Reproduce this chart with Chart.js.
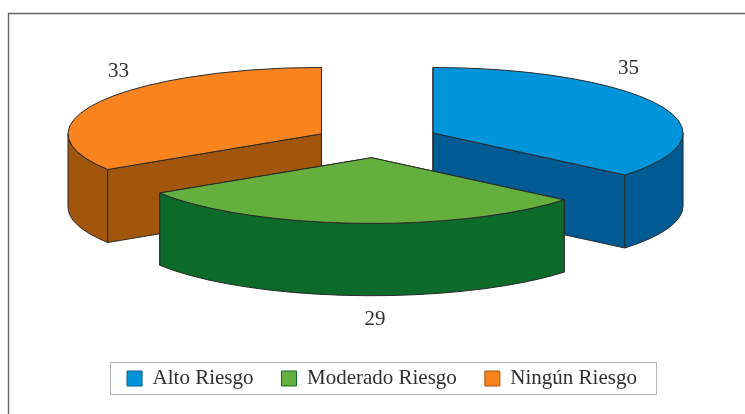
<!DOCTYPE html>
<html>
<head>
<meta charset="utf-8">
<style>
html,body{margin:0;padding:0;background:#fff;}
#wrap{position:relative;width:745px;height:414px;}
</style>
<script src="https://cdn.jsdelivr.net/npm/chart.js@4/dist/chart.umd.min.js"></script>
</head>
<body>
<div id="wrap"><canvas id="c" width="745" height="414"></canvas></div>
<script>
const categories = ['Alto Riesgo', 'Moderado Riesgo', 'Ningún Riesgo'];
const values = [35, 29, 33];
const topColors = ['#0095DB', '#65AF3F', '#F8831F'];
const wallColors = ['#005A94', '#0D6B29', '#A2560C'];
const FONT = '"Liberation Serif", serif';
const TEXT = '#2f2f2f';
const OUTLINE = '#2a2a2a';

// projection of the flat pie into its tilted view
const view = {cx: 376.6, cy: 141.4, squash: 0.262, depth: 73, explode: 62.3};
const paintOrder = [2, 0, 1];
const sliceShift = [[0, -1.5], [-1, 0], [-0.5, 0.3]];
const sliceScale = [1, 1.004, 1.014];
const depthScale = [1, 0.99, 1];
const labelNudge = [[-31, -36.5], [19.6, 22.7], [19.3, -30]];

function sliceOrigin(arc, i) {
  const mid = (arc.startAngle + arc.endAngle) / 2;
  return {
    x: view.cx + view.explode * Math.cos(mid) + sliceShift[i][0],
    y: view.cy + view.explode * view.squash * Math.sin(mid) + sliceShift[i][1],
    mid
  };
}
function drawSlice(ctx, arc, i) {
  const o = sliceOrigin(arc, i);
  const sc = sliceScale[i];
  const R = arc.outerRadius * sc, k = view.squash, D = view.depth * depthScale[i];
  const a0 = arc.startAngle, a1 = arc.endAngle;
  ctx.lineWidth = 1;
  ctx.strokeStyle = OUTLINE;
  ctx.lineJoin = 'round';
  ctx.fillStyle = wallColors[i];
  // flat cut faces
  [a0, a1].forEach(a => {
    const ex = o.x + R * Math.cos(a), ey = o.y + R * k * Math.sin(a);
    ctx.beginPath();
    ctx.moveTo(o.x, o.y);
    ctx.lineTo(ex, ey);
    ctx.lineTo(ex, ey + D);
    ctx.lineTo(o.x, o.y + D);
    ctx.closePath();
    ctx.fill();
    ctx.stroke();
  });
  // curved rim, front half only
  const TAU = Math.PI * 2;
  for (let n = -1; n <= 1; n++) {
    const s = Math.max(a0, n * TAU), e = Math.min(a1, n * TAU + Math.PI);
    if (e <= s) continue;
    ctx.beginPath();
    ctx.ellipse(o.x, o.y, R, R * k, 0, s, e);
    ctx.ellipse(o.x, o.y + D, R, R * k, 0, e, s, true);
    ctx.closePath();
    ctx.fill();
    ctx.stroke();
  }
  // top face: filled by the library's own arc element
  ctx.save();
  ctx.translate(o.x, o.y);
  ctx.scale(sc, k * sc);
  ctx.translate(-arc.x, -arc.y);
  arc.draw(ctx);
  ctx.restore();
  ctx.beginPath();
  ctx.moveTo(o.x, o.y);
  ctx.ellipse(o.x, o.y, R, R * k, 0, a0, a1);
  ctx.closePath();
  ctx.stroke();
}
const tiltedPie = {
  id: 'tiltedPie',
  beforeDraw(chart) {
    const ctx = chart.ctx;
    ctx.save();
    ctx.strokeStyle = '#666';
    ctx.lineWidth = 1.4;
    ctx.beginPath();
    ctx.moveTo(8.5, chart.height);
    ctx.lineTo(8.5, 13.5);
    ctx.lineTo(chart.width, 13.5);
    ctx.stroke();
    const boxes = chart.legend.legendHitBoxes;
    const last = boxes[boxes.length - 1];
    ctx.strokeStyle = '#b4b4b4';
    ctx.lineWidth = 1;
    const left = boxes[0].left - 17;
    ctx.strokeRect(Math.round(left) + 0.5, Math.round(boxes[0].top - 6) + 0.5, Math.round(last.left + last.width + 19 - left), 32);
    ctx.restore();
  },
  beforeDatasetsDraw(chart) {
    const ctx = chart.ctx;
    const arcs = chart.getDatasetMeta(0).data;
    ctx.save();
    paintOrder.forEach(i => drawSlice(ctx, arcs[i], i));
    ctx.fillStyle = TEXT;
    ctx.font = '21px ' + FONT;
    ctx.textAlign = 'center';
    ctx.textBaseline = 'middle';
    arcs.forEach((arc, i) => {
      const o = sliceOrigin(arc, i);
      const R = arc.outerRadius * sliceScale[i];
      const rimX = o.x + R * Math.cos(o.mid);
      const rimY = o.y + R * view.squash * Math.sin(o.mid);
      const below = Math.sin(o.mid) > 0.9 ? view.depth : 0;
      ctx.fillText(String(values[i]), rimX + labelNudge[i][0], rimY + below + labelNudge[i][1]);
    });
    ctx.restore();
    return false;
  }
};
new Chart(document.getElementById('c'), {
  type: 'pie',
  data: {
    labels: categories,
    datasets: [{data: values, backgroundColor: topColors, borderWidth: 0, radius: 250}]
  },
  options: {
    responsive: false,
    animation: false,
    layout: {padding: {left: 19, right: 0, top: 0, bottom: 15}},
    plugins: {
      tooltip: {enabled: false},
      legend: {
        position: 'bottom',
        labels: {
          boxWidth: 15,
          boxHeight: 15,
          padding: 28,
          color: TEXT,
          font: {family: FONT, size: 21},
          generateLabels(chart) {
            return categories.map((t, i) => ({
              text: t, fillStyle: topColors[i], strokeStyle: wallColors[i],
              lineWidth: 1, index: i, hidden: false, fontColor: TEXT
            }));
          }
        }
      }
    }
  },
  plugins: [tiltedPie]
});
</script>
</body>
</html>
